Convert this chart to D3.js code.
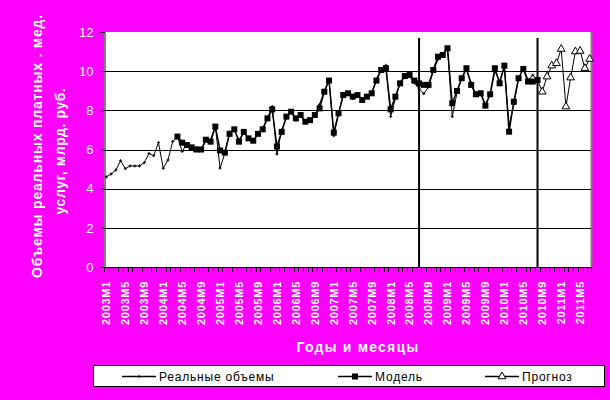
<!DOCTYPE html>
<html><head><meta charset="utf-8">
<script src="https://cdn.jsdelivr.net/npm/d3@7"></script>
<style>
html,body{margin:0;padding:0;background:#FF00FF;}
svg{display:block;}
</style></head>
<body>
<script>
// ---- data ----
const years = [2003,2004,2005,2006,2007,2008,2009,2010,2011];
const lastYearMonths = 7; // 2011 ends at M7
const tickLabels = ["2003M1","2003M5","2003M9","2004M1","2004M5","2004M9","2005M1","2005M5","2005M9",
  "2006M1","2006M5","2006M9","2007M1","2007M5","2007M9","2008M1","2008M5","2008M9",
  "2009M1","2009M5","2009M9","2010M1","2010M5","2010M9","2011M1","2011M5"];
const yTicks = [0,2,4,6,8,10,12];
const dividers = ["2008M7","2010M8"];

// Реальные объемы: 2003M1 .. 2010M8
const realValues = [4.6,4.75,4.95,5.43,5.02,5.16,5.16,5.16,5.33,5.8,5.68,6.35,
  5.04,5.46,6.4,6.66,5.9,6.3,6.05,6.1,5.95,6.45,6.5,7.2,
  5.05,5.8,6.9,7.0,6.5,6.85,6.6,6.4,6.85,7.1,7.6,8.2,
  5.77,7.0,7.6,7.9,7.5,7.8,7.4,7.55,7.7,8.3,9.0,9.55,
  6.7,7.8,8.8,8.9,8.6,8.8,8.5,8.75,8.9,9.6,10.1,10.3,
  7.68,8.6,9.4,9.8,9.75,9.4,9.1,8.85,9.2,10.0,10.6,10.9,
  11.2,7.68,8.9,9.6,10.1,9.4,8.8,8.9,8.3,8.8,10.0,9.5,
  10.2,7.25,8.3,9.6,10.2,9.55,9.8,9.55];
// Модель: 2004M4 .. 2010M8
const modelStart = "2004M4";
const modelValues = [6.66,6.35,6.23,6.11,6.0,6.0,6.5,6.4,7.17,
  5.95,5.84,6.8,7.03,6.4,6.9,6.57,6.45,6.8,7.03,7.59,8.05,
  6.15,6.9,7.68,7.93,7.59,7.76,7.42,7.5,7.76,8.1,8.95,9.52,
  6.86,7.85,8.78,8.87,8.7,8.78,8.53,8.7,8.87,9.52,10.06,10.15,
  8.05,8.7,9.38,9.75,9.8,9.52,9.38,9.3,9.3,10.06,10.74,10.83,
  11.17,8.36,8.99,9.64,10.15,9.3,8.82,8.87,8.24,8.82,10.15,9.38,
  10.28,6.91,8.44,9.64,10.11,9.47,9.47,9.55];
// Прогноз: 2010M8 .. 2011M7
const forecastStart = "2010M8";
const forecastValues = [9.55,8.95,9.72,10.28,10.4,11.13,8.19,9.67,11.0,11.03,10.15,10.62];

// categories
const categories = [];
years.forEach(y => {
  const n = y === 2011 ? lastYearMonths : 12;
  for (let m = 1; m <= n; m++) categories.push(y + "M" + m);
});
const seriesFrom = (start, vals) => {
  const s = categories.indexOf(start);
  return vals.map((v, k) => ({c: categories[s + k], v}));
};
const real = seriesFrom("2003M1", realValues);
const model = seriesFrom(modelStart, modelValues);
const forecast = seriesFrom(forecastStart, forecastValues);

// ---- layout ----
const W = 610, H = 400;
const plot = {l: 104, r: 592, t: 32, b: 267};
const FONT = "Liberation Sans, Arial, sans-serif";
const svg = d3.select("body").append("svg").attr("width", W).attr("height", H);
svg.append("rect").attr("width", W).attr("height", H).attr("fill", "#FF00FF");

const x = d3.scaleBand().domain(categories).range([plot.l, plot.r]).padding(0);
const xc = c => x(c) + x.bandwidth() / 2;
const y = d3.scaleLinear().domain([0, 12]).range([plot.b, plot.t]);

// plot area
svg.append("rect").attr("x", plot.l).attr("y", plot.t)
  .attr("width", plot.r - plot.l).attr("height", plot.b - plot.t).attr("fill", "#fff");
svg.append("line").attr("x1", plot.r - 0.5).attr("x2", plot.r - 0.5)
  .attr("y1", plot.t).attr("y2", plot.b).attr("stroke", "#808080").attr("stroke-width", 2);

// gridlines
svg.append("g").selectAll("line").data(yTicks.filter(d => d > 0 && d < 12)).join("line")
  .attr("x1", plot.l).attr("x2", plot.r - 1)
  .attr("y1", d => Math.round(y(d)) + 0.5).attr("y2", d => Math.round(y(d)) + 0.5)
  .attr("stroke", "#000").attr("stroke-width", 1);

// dividers
svg.append("g").selectAll("line").data(dividers).join("line")
  .attr("x1", d => xc(d)).attr("x2", d => xc(d))
  .attr("y1", y(11.7)).attr("y2", plot.b)
  .attr("stroke", "#000").attr("stroke-width", 2);

// y axis
const yAxis = d3.axisLeft(y).tickValues(yTicks).tickSize(4).tickPadding(7).tickFormat(d3.format("d"));
const gy = svg.append("g").attr("transform", `translate(${plot.l + 0.5},0)`).call(yAxis);
gy.select(".domain").attr("stroke", "#000");
gy.selectAll(".tick line").attr("stroke", "#000");
gy.selectAll("text").attr("fill", "#fff").attr("font-family", FONT).attr("font-size", 13);

// x axis line + ticks at category boundaries
svg.append("line").attr("x1", plot.l).attr("x2", plot.r).attr("y1", plot.b + 0.5).attr("y2", plot.b + 0.5)
  .attr("stroke", "#000");
svg.append("g").selectAll("line").data(categories).join("line")
  .attr("x1", d => Math.round(x(d)) + 0.5).attr("x2", d => Math.round(x(d)) + 0.5)
  .attr("y1", plot.b).attr("y2", plot.b + 5).attr("stroke", "#000");
svg.append("line").attr("x1", plot.r - 0.5).attr("x2", plot.r - 0.5)
  .attr("y1", plot.b).attr("y2", plot.b + 5).attr("stroke", "#000");

// x tick labels
svg.append("g").selectAll("text").data(tickLabels).join("text")
  .attr("transform", d => `translate(${xc(d)},${plot.b + 14}) rotate(-90)`)
  .attr("text-anchor", "end").attr("dy", "0.35em")
  .attr("fill", "#fff").attr("font-family", FONT)
  .attr("font-size", 11).attr("font-weight", "bold").attr("letter-spacing", 0.7)
  .text(d => d);

// axis titles
svg.append("text").attr("transform", "translate(37,146) rotate(-90)")
  .attr("text-anchor", "middle").attr("dy", "0.35em")
  .attr("fill", "#fff").attr("font-family", FONT)
  .attr("font-size", 14).attr("font-weight", "bold").attr("letter-spacing", 0.8)
  .text("Объемы реальных платных . мед.");
svg.append("text").attr("transform", "translate(60,151) rotate(-90)")
  .attr("text-anchor", "middle").attr("dy", "0.35em")
  .attr("fill", "#fff").attr("font-family", FONT)
  .attr("font-size", 14).attr("font-weight", "bold").attr("letter-spacing", 0.6)
  .text("услуг, млрд. руб.");
svg.append("text").attr("x", 358).attr("y", 347).attr("text-anchor", "middle").attr("dy", "0.35em")
  .attr("fill", "#fff").attr("font-family", FONT)
  .attr("font-size", 14).attr("font-weight", "bold").attr("letter-spacing", 1.2).text("Годы и месяцы");

// series
const line = d3.line().x(d => xc(d.c)).y(d => y(d.v));
svg.append("path").datum(real).attr("d", line).attr("fill", "none").attr("stroke", "#000").attr("stroke-width", 1);
svg.append("path").datum(model).attr("d", line).attr("fill", "none").attr("stroke", "#000").attr("stroke-width", 1.5);
svg.append("path").datum(forecast).attr("d", line).attr("fill", "none").attr("stroke", "#000").attr("stroke-width", 1);

// markers
svg.append("g").selectAll("path").data(real).join("path")
  .attr("d", d => `M${xc(d.c) - 1.5},${y(d.v)}h3M${xc(d.c)},${y(d.v) - 1.5}v3`)
  .attr("stroke", "#000").attr("stroke-width", 1);
svg.append("g").selectAll("rect").data(model).join("rect")
  .attr("x", d => xc(d.c) - 3).attr("y", d => y(d.v) - 3).attr("width", 6).attr("height", 6)
  .attr("fill", "#000");
const tri = d3.symbol().type(d3.symbolTriangle).size(26);
svg.append("g").selectAll("path").data(forecast.slice(1)).join("path")
  .attr("transform", d => `translate(${xc(d.c)},${y(d.v)})`).attr("d", tri)
  .attr("fill", "#fff").attr("stroke", "#000").attr("stroke-width", 1);

// legend
const lg = svg.append("g");
lg.append("rect").attr("x", 93.5).attr("y", 365.5).attr("width", 511).attr("height", 21)
  .attr("fill", "#fff").attr("stroke", "#000");
const legendItems = [
  {label: "Реальные объемы", x0: 122, kind: "real"},
  {label: "Модель", x0: 338, kind: "model"},
  {label: "Прогноз", x0: 485, kind: "forecast"}
];
legendItems.forEach(it => {
  const cy = 376.5, mx = it.x0 + 17;
  lg.append("line").attr("x1", it.x0).attr("x2", it.x0 + 34).attr("y1", cy).attr("y2", cy)
    .attr("stroke", "#000").attr("stroke-width", 1.5);
  if (it.kind === "real") lg.append("path").attr("d", `M${mx},${cy - 1.5}v3`).attr("stroke", "#000");
  if (it.kind === "model") lg.append("rect").attr("x", mx - 3).attr("y", cy - 3).attr("width", 6).attr("height", 6).attr("fill", "#000");
  if (it.kind === "forecast") lg.append("path").attr("transform", `translate(${mx},${cy})`).attr("d", tri)
    .attr("fill", "#fff").attr("stroke", "#000");
  lg.append("text").attr("x", it.x0 + 37).attr("y", cy).attr("dy", "0.35em")
    .attr("font-family", FONT).attr("font-size", 12)
    .attr("letter-spacing", 0.8).attr("fill", "#000").text(it.label);
});
</script>
</body></html>
